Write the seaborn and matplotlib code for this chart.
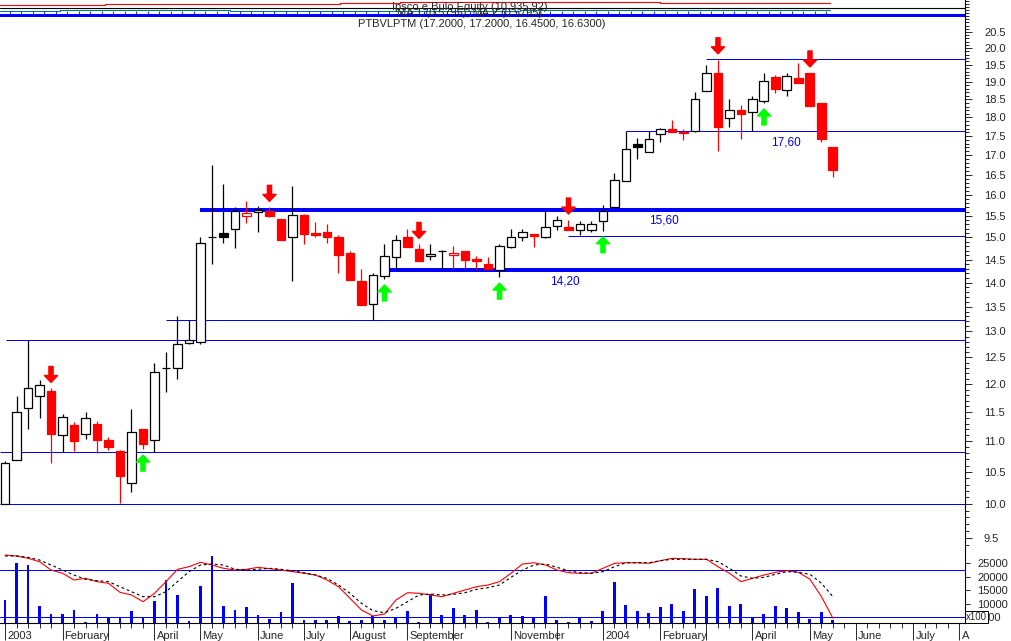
import numpy as np
import matplotlib
matplotlib.use("Agg")
import matplotlib.pyplot as plt
import matplotlib.ticker as mticker
import seaborn as sns

# weekly candles, first bar = first week of January 2003
opens = [10.00, 10.69, 11.57, 11.78, 11.87, 11.10, 11.28, 11.12, 11.30, 11.02,
         10.84, 10.32, 11.20, 11.02, 12.30, 12.30, 12.78, 12.80, 15.00, 15.10,
         15.20, 15.50, 15.60, 15.62, 15.42, 15.00, 15.53, 15.10, 15.12, 15.00,
         14.64, 14.04, 13.55, 14.14, 14.55, 15.00, 14.74, 14.58, 14.70, 14.60,
         14.70, 14.52, 14.40, 14.27, 14.78, 15.00, 15.07, 15.00, 15.26, 15.24,
         15.17, 15.17, 15.37, 15.70, 16.35, 17.28, 17.07, 17.55, 17.68, 17.60,
         17.63, 18.75, 19.26, 17.98, 18.20, 18.15, 18.46, 19.15, 18.77, 19.12,
         19.26, 18.40, 17.20]
highs = [10.68, 11.78, 12.83, 12.08, 11.92, 11.46, 11.33, 11.50, 11.35, 11.07,
         10.86, 11.55, 11.20, 12.40, 12.60, 13.30, 13.23, 15.00, 16.75, 16.27,
         15.70, 15.86, 15.73, 15.70, 15.42, 16.22, 15.55, 15.35, 15.30, 15.05,
         14.70, 14.30, 14.20, 14.85, 15.05, 15.20, 14.84, 14.85, 14.72, 14.80,
         14.70, 14.57, 14.55, 14.85, 15.20, 15.20, 15.07, 15.62, 15.50, 15.40,
         15.38, 15.38, 15.75, 16.55, 17.63, 17.45, 17.63, 17.72, 17.93, 17.70,
         18.72, 19.50, 19.65, 18.52, 18.35, 18.60, 19.26, 19.20, 19.26, 19.56,
         19.26, 18.40, 17.20]
lows = [10.00, 10.69, 11.20, 11.40, 10.65, 10.82, 10.84, 11.04, 10.80, 10.86,
        10.01, 10.19, 10.87, 10.82, 11.85, 12.10, 12.75, 12.76, 14.40, 14.88,
        14.75, 15.33, 15.12, 15.48, 14.94, 14.04, 14.85, 15.00, 14.88, 14.20,
        14.05, 13.53, 13.22, 14.08, 14.30, 14.78, 14.47, 14.50, 14.30, 14.30,
        14.30, 14.30, 14.30, 14.12, 14.77, 14.92, 14.78, 14.98, 15.17, 15.17,
        15.05, 15.12, 15.15, 15.70, 16.35, 16.90, 17.07, 17.35, 17.60, 17.40,
        17.60, 18.75, 17.10, 17.75, 17.43, 17.63, 18.40, 18.68, 18.60, 18.97,
        18.32, 17.35, 16.45]
closes = [10.65, 11.50, 11.92, 11.98, 11.12, 11.42, 11.00, 11.40, 11.02, 10.91,
          10.44, 11.15, 10.95, 12.22, 12.30, 12.75, 12.83, 14.88, 15.00, 15.00,
          15.62, 15.57, 15.63, 15.50, 14.94, 15.53, 15.08, 15.05, 15.00, 14.60,
          14.05, 13.53, 14.17, 14.58, 14.94, 14.78, 14.47, 14.63, 14.70, 14.65,
          14.50, 14.47, 14.30, 14.80, 15.00, 15.12, 15.02, 15.24, 15.40, 15.17,
          15.30, 15.30, 15.62, 16.37, 17.15, 17.20, 17.43, 17.70, 17.60, 17.58,
          18.52, 19.26, 17.75, 18.20, 18.10, 18.50, 19.03, 18.80, 19.18, 18.97,
          18.32, 17.43, 16.63]

# volume (x100) and its two moving averages
volumes = [11300, 25100, 24260, 9070, 6110, 6110, 7590, 3260, 6110, 5000,
           5000, 7220, 5000, 10800, 18700, 13150, 3630, 16480, 27600, 9070,
           7590, 8810, 5740, 4260, 6850, 17700, 3890, 3890, 3890, 5370,
           3520, 3890, 5370, 3890, 5000, 7220, 3260, 13400, 5740, 8200,
           5740, 7590, 3260, 5000, 5740, 5370, 5000, 12780, 3890, 3000,
           5000, 3520, 7220, 17850, 9440, 7220, 6370, 8590, 9810, 7220,
           15370, 12780, 15630, 9070, 9810, 5000, 6110, 9070, 8200, 6850,
           4260, 6850, 3890]
ma_fast = [27960, 27600, 26740, 25500, 22400, 21200, 18700, 19330, 18100, 17480,
           14140, 13150, 10670, 13780, 18100, 22670, 23630, 25260, 24260, 23040,
           22400, 22670, 23400, 22900, 22400, 21800, 21200, 20560, 18700, 16220,
           11920, 7590, 5370, 6110, 11300, 14000, 13780, 13150, 12520, 13780,
           15000, 16220, 16850, 18100, 21200, 24630, 25100, 24260, 22400, 21400,
           21200, 21200, 23040, 24880, 25100, 25100, 24880, 25860, 26740, 26600,
           26370, 26370, 23630, 21200, 18100, 19330, 20560, 21560, 22150, 21560,
           18960, 12520, 4520]
ma_slow = [27600, 27600, 27100, 26110, 24260, 22400, 20560, 18960, 18450, 18100,
           16220, 14370, 12520, 12520, 14370, 18100, 21800, 24260, 24630, 24260,
           22670, 22400, 22670, 23040, 22670, 22150, 21400, 20560, 19330, 16850,
           13780, 10070, 7340, 6600, 8200, 10670, 13150, 13520, 13150, 13400,
           14000, 15250, 15850, 16850, 19700, 22400, 24260, 24630, 23400, 22150,
           21400, 21200, 21800, 23630, 25100, 25100, 25100, 25860, 26370, 26370,
           26370, 26370, 25500, 23040, 20190, 19330, 19700, 20810, 21800, 21560,
           20810, 17480, 12520]

# support / resistance lines drawn on the chart
level_price = [10.00, 10.82, 12.83, 13.23, 14.27, 15.02, 15.64, 17.63, 19.67]
level_start = [-0.45, -0.45, 0.1, 14.0, 33.0, 49.0, 17.0, 54.0, 61.0]
level_thick = [False, False, False, False, True, False, True, False, False]
level_text = ["17,60", "15,60", "14,20"]
level_text_week = [67.9, 57.3, 48.7]
level_text_price = [17.63, 15.64, 14.27]

down_arrows = [4, 23, 36, 49, 62, 70]
up_arrows = [12, 33, 43, 52, 66]

price_ticks = np.round(np.arange(9.5, 20.51, 0.5), 1)
vol_ticks = [5000, 10000, 15000, 20000, 25000]
vol_levels = [22400, 5000]

month_weeks = [0, 5, 9, 13, 17, 22, 26, 30, 35, 39, 44, 48, 52, 57, 61, 65, 70, 74, 79, 83]
month_labels = ["2003", "February", "", "April", "May", "June", "July", "August",
                "September", "", "November", "", "2004", "February", "", "April",
                "May", "June", "July", "A"]

BLUE = "#0000ff"
PX = 0.72  # points per pixel at 100 dpi

sns.set_style("white")
plt.rcParams["font.family"] = ["Liberation Sans", "DejaVu Sans"]

W, H = 1012, 641
fig = plt.figure(figsize=(W / 100, H / 100), dpi=100)
ax = fig.add_axes([0, 1 - 545 / H, 965 / W, 545 / H])
axv = fig.add_axes([0, 1 - 623 / H, 965 / W, 78 / H], sharex=ax)
ax.patch.set_alpha(0)

weeks = np.arange(len(closes))

# 1. candles: hollow when close > open, red when close below previous close
prev_close = [opens[0]] + closes[:-1]
edge = ["#ff0000" if c < p else "black" for c, p in zip(closes, prev_close)]
face = [e if c < o else "white" for e, c, o in zip(edge, closes, opens)]
bottoms = np.minimum(opens, closes)
heights = np.abs(np.array(closes) - np.array(opens))

ax.set_yscale("log")
ax.vlines(weeks, lows, highs, colors=edge, linewidth=0.9, zorder=3)
ax.bar(weeks, heights, bottom=bottoms, width=0.78, color=face,
       edgecolor=edge, linewidth=0.9, zorder=4)

# 2. levels
for p, s, thick in zip(level_price, level_start, level_thick):
    ax.hlines(p, s, 83.6, color=BLUE, linewidth=4 * PX if thick else 1 * PX, zorder=2)
for t, w, p in zip(level_text, level_text_week, level_text_price):
    ax.annotate(t, xy=(w, p), xytext=(0, -11 * PX), textcoords="offset points",
                ha="center", va="center", fontsize=8.5, color="#0000dd")

# 3. signal arrows
def arrow(i, price, up):
    sign = -1 if up else 1
    ax.annotate("", xy=(i, price), xytext=(0, sign * 22 * PX), textcoords="offset points",
                arrowprops=dict(arrowstyle="simple,head_length=0.5,head_width=0.95,tail_width=0.3",
                                color="#00ff00" if up else "#ff0000",
                                shrinkA=0, shrinkB=6 * PX, mutation_scale=10), zorder=5)

for i in down_arrows:
    arrow(i, highs[i], False)
for i in up_arrows:
    arrow(i, lows[i], True)

ax.set_ylim(9.395, 21.52)
ax.yaxis.tick_right()
ax.yaxis.set_major_locator(mticker.FixedLocator(price_ticks))
ax.yaxis.set_major_formatter(mticker.FixedFormatter([f"{t:.1f}" for t in price_ticks]))
ax.yaxis.set_minor_locator(mticker.FixedLocator(np.round(np.arange(9.3, 21.55, 0.1), 1)))
ax.yaxis.set_minor_formatter(mticker.NullFormatter())
ax.tick_params(axis="y", which="major", length=7 * PX, width=0.7, pad=12 * PX, labelsize=8)
ax.tick_params(axis="y", which="minor", length=4 * PX, width=0.7)
ax.tick_params(axis="x", which="both", bottom=False, labelbottom=False)
for side in ["left", "top", "bottom"]:
    ax.spines[side].set_visible(False)
ax.spines["right"].set_color("black")
ax.spines["right"].set_linewidth(0.8)

# 4. volume pane
sns.barplot(x=weeks, y=volumes, native_scale=True, width=0.26, color=BLUE,
            saturation=1, errorbar=None, linewidth=0, ax=axv, zorder=2)
sns.lineplot(x=weeks, y=ma_fast, color="#ff0000", linewidth=0.8, ax=axv, zorder=4)
sns.lineplot(x=weeks, y=ma_slow, color="black", linewidth=0.8,
             linestyle=(0, (2.5, 2.5)), ax=axv, zorder=4)
for v in vol_levels:
    axv.axhline(v, color=BLUE, linewidth=1 * PX, zorder=3)
axv.set_ylim(2780, 31670)
axv.set_xlim(-0.435, 83.48)
axv.set_xlabel("")
axv.set_ylabel("")
axv.patch.set_alpha(0)
axv.yaxis.tick_right()
axv.yaxis.set_major_locator(mticker.FixedLocator(vol_ticks))
axv.yaxis.set_major_formatter(mticker.FixedFormatter([str(v) for v in vol_ticks]))
axv.tick_params(axis="y", which="major", length=5 * PX, width=0.7, pad=7 * PX, labelsize=8)
axv.xaxis.set_major_locator(mticker.FixedLocator(month_weeks))
axv.xaxis.set_major_formatter(mticker.NullFormatter())
axv.xaxis.set_minor_locator(mticker.FixedLocator(np.arange(0, 84)))
axv.tick_params(axis="x", which="major", length=17 * PX, width=0.7, direction="out", bottom=True)
axv.tick_params(axis="x", which="minor", length=5 * PX, width=0.7, direction="out", bottom=True)
for side in ["left", "top"]:
    axv.spines[side].set_visible(False)
for side in ["right", "bottom"]:
    axv.spines[side].set_color("black")
    axv.spines[side].set_linewidth(0.8)
for w, lab in zip(month_weeks, month_labels):
    axv.annotate(lab, xy=(w, 0), xycoords=axv.get_xaxis_transform(), xytext=(1.5, -16 * PX),
                 textcoords="offset points", ha="left", va="baseline", fontsize=8)
fig.text(966 / W, 1 - 617 / H, "x100", ha="left", va="center", fontsize=7,
         bbox=dict(facecolor="white", edgecolor="black", linewidth=0.7, pad=0.6))

# 5. header strip (small overview + legend text)
head = fig.add_axes([0, 1 - 17 / H, 965 / W, 17 / H])
head.set_xlim(0, 965)
head.set_ylim(17, 0)
head.axis("off")
head.plot([0, 105, 105, 340, 340, 400, 400, 660, 660, 830], [5, 5, 4, 4, 3, 3, 2, 2, 3, 3],
          color="#ff0000", linewidth=0.8)
head.plot([0, 965], [8, 8], color="black", linewidth=0.8)
head.plot([0, 60, 60, 230, 230, 520, 520, 830], [11, 11, 10, 10, 11, 11, 10, 10],
          color="#008080", linewidth=0.8)
head.plot([0, 965], [15, 15], color=BLUE, linewidth=2.2)
head.vlines(np.arange(10, 830, 11.5), 11, 15, color=BLUE, linewidth=0.6)
head.text(470, 7, "Ipsco e Bulo Equity (10.935.92)", ha="center", va="center", fontsize=8)
head.text(470, 13, "MA 1 (0.5795), MA 2 (0.5795)", ha="center", va="center", fontsize=8)
fig.text(482 / W, 1 - 24 / H, "PTBVLPTM (17.2000, 17.2000, 16.4500, 16.6300)",
         ha="center", va="center", fontsize=8)

fig.savefig("out.png", dpi=100)
